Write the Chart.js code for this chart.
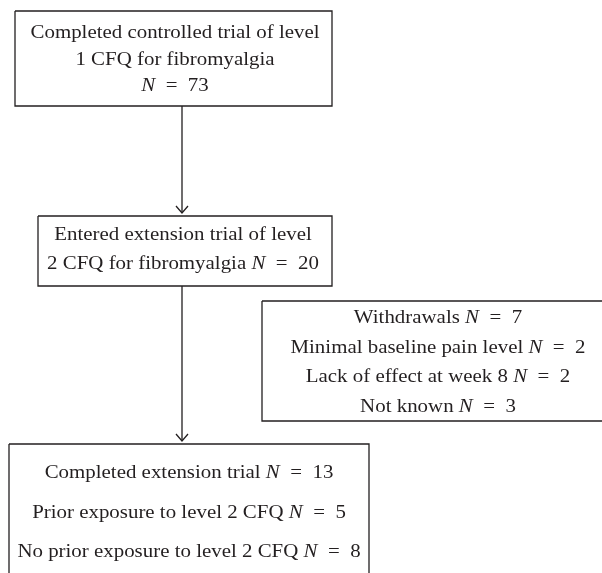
<!DOCTYPE html>
<html lang="en">
  <head>
    <meta charset="UTF-8" />
    <title>Flow of participants</title>
    <script src="https://cdn.jsdelivr.net/npm/chart.js@4.4.1/dist/chart.umd.min.js"></script>
    <style>
      html, body { margin: 0; padding: 0; background: #fff; }
      #flow { display: block; }
    </style>
  </head>
  <body>
    <canvas id="flow" width="602" height="573"></canvas>
    <script>
      // box texts, *N* marks the italic N
      const box1Lines = ["Completed controlled trial of level", "1 CFQ for fibromyalgia", "*N* = 73"];
      const box2Lines = ["Entered extension trial of level", "2 CFQ for fibromyalgia *N* = 20"];
      const box3Lines = ["Withdrawals *N* = 7", "Minimal baseline pain level *N* = 2", "Lack of effect at week 8 *N* = 2", "Not known *N* = 3"];
      const box4Lines = ["Completed extension trial *N* = 13", "Prior exposure to level 2 CFQ *N* = 5", "No prior exposure to level 2 CFQ *N* = 8"];

      // layout in axis units (0..602 across, 0..573 down)
      const boxLeft = [15, 38, 262, 9];
      const boxRight = [332, 332, 614, 369];
      const boxTop = [11, 216, 301, 444];
      const boxBottom = [106, 286, 421, 600];
      const textCenter = [175, 183, 438, 189];
      const baselines = [[38, 65, 91], [240, 269], [323, 353, 382, 412], [478, 518, 557]];

      const arrowX = [182, 182];
      const arrowFrom = [106, 286];
      const arrowTo = [213, 441];

      const allLines = [box1Lines, box2Lines, box3Lines, box4Lines];
      const ink = "#231f20";
      const fontSize = 19;
      const stretch = 1.1;

      const datasets = [];
      boxLeft.forEach((l, i) => {
        datasets.push({
          data: [
            { x: l, y: boxTop[i] },
            { x: boxRight[i], y: boxTop[i] },
            { x: boxRight[i], y: boxBottom[i] },
            { x: l, y: boxBottom[i] },
            { x: l, y: boxTop[i] },
          ],
          showLine: true,
          borderColor: ink,
          borderWidth: 1.3,
          pointRadius: 0,
          fill: false,
        });
      });
      arrowX.forEach((x, i) => {
        datasets.push({
          data: [
            { x: x, y: arrowFrom[i] },
            { x: x, y: arrowTo[i] },
          ],
          showLine: true,
          borderColor: ink,
          borderWidth: 1.3,
          pointRadius: 0,
          fill: false,
        });
      });

      const flowText = {
        id: "flowText",
        afterDatasetsDraw(chart) {
          const ctx = chart.ctx;
          const xs = chart.scales.x;
          const ys = chart.scales.y;
          ctx.save();
          ctx.strokeStyle = ink;
          ctx.lineWidth = 1.3;
          // arrow heads
          arrowX.forEach((x, i) => {
            const px = xs.getPixelForValue(x);
            const py = ys.getPixelForValue(arrowTo[i]);
            ctx.beginPath();
            ctx.moveTo(px - 6, py - 7);
            ctx.lineTo(px, py);
            ctx.lineTo(px + 6, py - 7);
            ctx.stroke();
          });
          // text, slightly widened to match the original face
          ctx.fillStyle = ink;
          ctx.textBaseline = "alphabetic";
          ctx.textAlign = "left";
          const normal = fontSize + 'px "Liberation Serif", serif';
          const italic = "italic " + normal;
          allLines.forEach((lines, b) => {
            lines.forEach((line, j) => {
              const parts = line.replace(/ = /g, "\u2002=\u2002").split("*");
              let total = 0;
              parts.forEach((p, k) => {
                ctx.font = k % 2 ? italic : normal;
                total += ctx.measureText(p).width;
              });
              const cx = xs.getPixelForValue(textCenter[b]);
              const y = ys.getPixelForValue(baselines[b][j]);
              ctx.save();
              ctx.translate(cx, y);
              ctx.scale(stretch, 1);
              let x = -total / 2;
              parts.forEach((p, k) => {
                ctx.font = k % 2 ? italic : normal;
                ctx.fillText(p, x, 0);
                x += ctx.measureText(p).width;
              });
              ctx.restore();
            });
          });
          ctx.restore();
        },
      };

      new Chart("flow", {
        type: "scatter",
        data: { datasets: datasets },
        options: {
          responsive: false,
          animation: false,
          layout: { padding: 0 },
          plugins: { legend: { display: false }, tooltip: { enabled: false } },
          scales: {
            x: { type: "linear", min: 0, max: 602, display: false },
            y: { type: "linear", min: 0, max: 573, reverse: true, display: false },
          },
        },
        plugins: [flowText],
      });
    </script>
  </body>
</html>
